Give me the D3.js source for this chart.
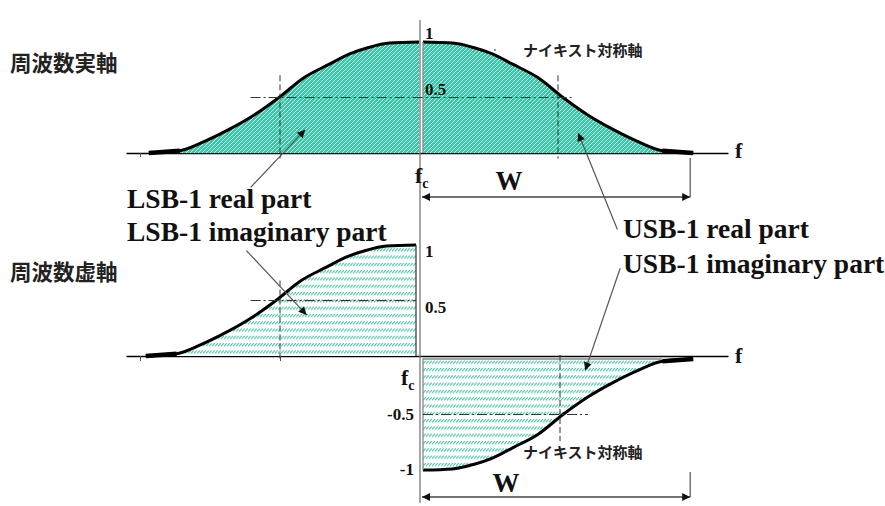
<!DOCTYPE html>
<html>
<head>
<meta charset="utf-8">
<script src="https://cdn.jsdelivr.net/npm/d3@7"></script>
<style>
  html, body { margin: 0; padding: 0; background: #fff; }
  svg { display: block; }
  .serif { font-family: "Liberation Serif", "DejaVu Serif", serif; font-weight: bold; fill: #111; }
  .jp { font-family: "Noto Sans CJK JP", "Noto Sans", sans-serif; fill: #222; }
</style>
</head>
<body>
<svg id="chart" width="885" height="506"></svg>
<script>
// Frequency offset from the carrier fc, in units of the Nyquist offset
const usbFreq = [0, 0.21, 0.36, 0.5, 0.64, 0.82, 1.0, 1.18, 1.36, 1.54, 1.71, 1.93];
const lsbFreq = [-1.93, -1.71, -1.54, -1.36, -1.18, -1.0, -0.82, -0.64, -0.5, -0.36, -0.21, 0];

// Real part of the roll-off spectrum
const usbReal = [1, 0.99, 0.95, 0.89, 0.80, 0.68, 0.5, 0.34, 0.21, 0.10, 0.02, 0];
const lsbReal = [0, 0.02, 0.10, 0.21, 0.34, 0.5, 0.68, 0.80, 0.89, 0.95, 0.99, 1];

// Imaginary part of the roll-off spectrum
const lsbImag = [0, 0.02, 0.10, 0.21, 0.34, 0.5, 0.68, 0.80, 0.89, 0.95, 0.99, 1];
const usbImag = [-1, -0.99, -0.95, -0.89, -0.80, -0.68, -0.5, -0.34, -0.21, -0.10, -0.02, 0];

// Axis tick positions and value labels
const freqTicks = [-2, -1];
const realLabels = ["1", "0.5"];
const realLabelValues = [1, 0.5];
const imagLabels = ["1", "0.5"];
const imagLabelValues = [1, 0.5];
const imagNegLabels = ["-0.5", "-1"];
const imagNegLabelValues = [-0.5, -1];
const nyquistValue = 1;
const bandEdge = 1.93;

const svg = d3.select("#chart");
const teal = "#36c9a5";

// Scales
const x = d3.scaleLinear().domain([-2.1, 2.2]).range([126, 728]);
const yTop = d3.scaleLinear().domain([0, 1]).range([153, 42]);
const yBot = d3.scaleLinear().domain([-1, 1]).range([467, 245]);

// Fill patterns
const defs = svg.append("defs");
const hatch = defs.append("pattern").attr("id", "hatchReal")
  .attr("patternUnits", "userSpaceOnUse").attr("width", 4).attr("height", 4);
hatch.append("rect").attr("width", 4).attr("height", 4).attr("fill", teal);
hatch.append("path").attr("d", "M-1,1 l2,-2 M0,4 l4,-4 M3,5 l2,-2")
  .attr("stroke", "#fff").attr("stroke-width", 0.9).attr("opacity", 0.85);

const bands = defs.append("pattern").attr("id", "hatchImag")
  .attr("patternUnits", "userSpaceOnUse").attr("width", 3).attr("height", 7.3);
bands.append("rect").attr("width", 3).attr("height", 7.3).attr("fill", "#fff");
bands.append("path").attr("d", "M0,3 L3,0").attr("stroke", teal).attr("stroke-width", 1.1);

const arrowHead = (id) => {
  defs.append("marker").attr("id", id)
    .attr("viewBox", "0 0 10 10").attr("refX", 10).attr("refY", 5)
    .attr("markerWidth", 10).attr("markerHeight", 8).attr("markerUnits", "userSpaceOnUse")
    .attr("orient", "auto-start-reverse")
    .append("path").attr("d", "M0,0 L10,5 L0,10 Z").attr("fill", "#111");
};
arrowHead("arrow");

const zip = (fs, vs) => fs.map((f, i) => ({ f, v: vs[i] }));

function band(g, pts, y, pattern) {
  const area = d3.area().x(d => x(d.f)).y0(y(0)).y1(d => y(d.v)).curve(d3.curveMonotoneX);
  g.append("path").attr("d", area(pts)).attr("fill", `url(#${pattern})`)
    .attr("stroke", "none");
  const line = d3.line().x(d => x(d.f)).y(d => y(d.v)).curve(d3.curveMonotoneX);
  g.append("path").attr("d", line(pts)).attr("fill", "none")
    .attr("stroke", "#000").attr("stroke-width", 3).attr("stroke-linejoin", "round");
  // flat tail of the curve lying on the axis
  const tail = pts.filter(d => Math.abs(d.f) >= 1.71);
  g.append("path").attr("d", d3.line().x(d => x(d.f)).y(d => y(d.v))(tail))
    .attr("stroke", "#000").attr("stroke-width", 4.5).attr("fill", "none");
  return g;
}

// ---------- Upper panel: real axis ----------
const axTop = svg.append("g").attr("transform", `translate(0,${yTop(0)})`)
  .call(d3.axisBottom(x).tickValues(freqTicks).tickFormat("").tickSizeInner(4).tickSizeOuter(0));
axTop.select(".domain").attr("stroke", "#000").attr("stroke-width", 1.6);
axTop.selectAll(".tick line").attr("stroke", "#555");

const lsbRealG = svg.append("g").attr("transform", "translate(-1,0)");
band(lsbRealG, zip(lsbFreq, lsbReal), yTop, "hatchReal");
const usbRealG = svg.append("g").attr("transform", "translate(3,0)");
band(usbRealG, zip(usbFreq, usbReal), yTop, "hatchReal");
usbRealG.append("line").attr("x1", x(0)).attr("x2", x(0)).attr("y1", yTop(1)).attr("y2", yTop(0))
  .attr("stroke", "#888").attr("stroke-width", 1.3);

// ---------- Lower panel: imaginary axis ----------
const axBot = svg.append("g").attr("transform", `translate(0,${yBot(0)})`)
  .call(d3.axisBottom(x).tickValues(freqTicks).tickFormat("").tickSizeInner(5).tickSizeOuter(0));
axBot.select(".domain").attr("stroke", "#000").attr("stroke-width", 1.4);
axBot.selectAll(".tick line").attr("stroke", "#555");

const lsbImagG = svg.append("g").attr("transform", "translate(-4,0)");
band(lsbImagG, zip(lsbFreq, lsbImag), yBot, "hatchImag");
lsbImagG.append("line").attr("x1", x(0)).attr("x2", x(0)).attr("y1", yBot(1)).attr("y2", yBot(0))
  .attr("stroke", "#333").attr("stroke-width", 1.2);

const usbImagG = svg.append("g").attr("transform", "translate(3,3)");
band(usbImagG, zip(usbFreq, usbImag), yBot, "hatchImag");
usbImagG.append("path")
  .attr("d", `M${x(0)},${yBot(-1)} V${yBot(0)} H${x(1.71)}`)
  .attr("fill", "none").attr("stroke", "#888").attr("stroke-width", 1.3);

// Vertical frequency-origin line through both panels
svg.append("line").attr("x1", x(0)).attr("x2", x(0)).attr("y1", 20).attr("y2", 503)
  .attr("stroke", "#777").attr("stroke-width", 1.3);

// ---------- Nyquist guide lines ----------
const dashed = { stroke: "#333", width: 1, dash: "6,3" };
const dashDot = { stroke: "#333", width: 1, dash: "10,3,2,3" };
function guide(x1, y1, x2, y2, s) {
  svg.append("line").attr("x1", x1).attr("y1", y1).attr("x2", x2).attr("y2", y2)
    .attr("stroke", s.stroke).attr("stroke-width", s.width).attr("stroke-dasharray", s.dash);
}
// upper
guide(x(-nyquistValue), yTop(0.70), x(-nyquistValue), yTop(-0.05), dashed);
guide(x(nyquistValue) - 2, yTop(0.70), x(nyquistValue) - 2, yTop(-0.05), dashed);
guide(x(-1.21), yTop(0.5), x(1.09), yTop(0.5), dashDot);
// lower left
guide(x(-nyquistValue), yBot(0.68), x(-nyquistValue), yBot(-0.05), dashed);
guide(x(-1.21), yBot(0.5), x(-0.03), yBot(0.5), dashDot);
// lower right
guide(x(nyquistValue), yBot(0) - 1, x(nyquistValue), yBot(-0.74) + 3, dashed);
guide(x(0) + 3, yBot(-0.5) + 3, x(1.2), yBot(-0.5) + 3, dashDot);

// ---------- Value labels ----------
realLabels.forEach((t, i) => {
  svg.append("text").attr("class", "serif").attr("x", x(0) + 5).attr("y", yTop(realLabelValues[i]) - 3)
    .attr("font-size", 17).text(t);
});
imagLabels.forEach((t, i) => {
  svg.append("text").attr("class", "serif").attr("x", x(0) + 5).attr("y", yBot(imagLabelValues[i]) + 12)
    .attr("font-size", 17).text(t);
});
imagNegLabels.forEach((t, i) => {
  svg.append("text").attr("class", "serif").attr("x", x(0) - 6).attr("y", yBot(imagNegLabelValues[i]) + 8)
    .attr("text-anchor", "end").attr("font-size", 17).text(t);
});

// Frequency axis names
svg.append("text").attr("class", "serif").attr("x", 735).attr("y", 158).attr("font-size", 22).text("f");
svg.append("text").attr("class", "serif").attr("x", 735).attr("y", 363).attr("font-size", 22).text("f");

function fc(xp, yp) {
  const t = svg.append("text").attr("class", "serif").attr("x", xp).attr("y", yp).attr("font-size", 22);
  t.append("tspan").text("f");
  t.append("tspan").attr("font-size", 14).attr("dy", 5).text("c");
}
fc(415, 183);
fc(401, 385);

// ---------- Bandwidth W ----------
function widthArrow(yA, yTick, yLab, xLab) {
  svg.append("line").attr("x1", x(0) + 2).attr("x2", x(bandEdge)).attr("y1", yA).attr("y2", yA)
    .attr("stroke", "#444").attr("stroke-width", 1.4)
    .attr("marker-start", "url(#arrow)").attr("marker-end", "url(#arrow)");
  svg.append("line").attr("x1", x(bandEdge)).attr("x2", x(bandEdge)).attr("y1", yTick).attr("y2", yA)
    .attr("stroke", "#555").attr("stroke-width", 1.2);
  svg.append("text").attr("class", "serif").attr("x", xLab).attr("y", yLab)
    .attr("text-anchor", "middle").attr("font-size", 27).text("W");
}
widthArrow(197, 158, 190, 509);
widthArrow(497, 472, 492, 506);

// ---------- Panel titles ----------
svg.append("text").attr("class", "jp").attr("x", 10).attr("y", 71).attr("font-size", 21.5)
  .attr("font-weight", 700).text("周波数実軸");
svg.append("text").attr("class", "jp").attr("x", 10).attr("y", 280).attr("font-size", 21.5)
  .attr("font-weight", 700).text("周波数虚軸");

// Nyquist symmetry axis notes
svg.append("text").attr("class", "jp").attr("x", 523).attr("y", 56).attr("font-size", 15)
  .attr("font-weight", 700).text("ナイキスト対称軸");
svg.append("text").attr("class", "jp").attr("x", 523).attr("y", 458).attr("font-size", 15)
  .attr("font-weight", 700).text("ナイキスト対称軸");
svg.append("circle").attr("cx", 495).attr("cy", 50).attr("r", 1).attr("fill", "#777");

// ---------- Sideband callouts ----------
function callout(x1, y1, x2, y2) {
  svg.append("line").attr("x1", x1).attr("y1", y1).attr("x2", x2).attr("y2", y2)
    .attr("stroke", "#555").attr("stroke-width", 1.2).attr("marker-end", "url(#arrow)");
}
callout(x(-1.21), yTop(-0.31), x(-0.82), yTop(0.21));
callout(x(1.41), yTop(-0.69), x(1.13), yTop(0.18));
callout(x(-1.24), yBot(0.95), x(-0.81), yBot(0.37));
callout(x(1.43), yBot(0.79), x(1.18), yBot(-0.13));

const calloutText = [
  { t: "LSB-1 real part", x: 127, y: 208 },
  { t: "LSB-1 imaginary part", x: 127, y: 241 },
  { t: "USB-1 real part", x: 623, y: 238 },
  { t: "USB-1 imaginary part", x: 623, y: 273 }
];
calloutText.forEach(d => {
  svg.append("text").attr("class", "serif").attr("x", d.x).attr("y", d.y)
    .attr("font-size", 27.5).text(d.t);
});
</script>
</body>
</html>
